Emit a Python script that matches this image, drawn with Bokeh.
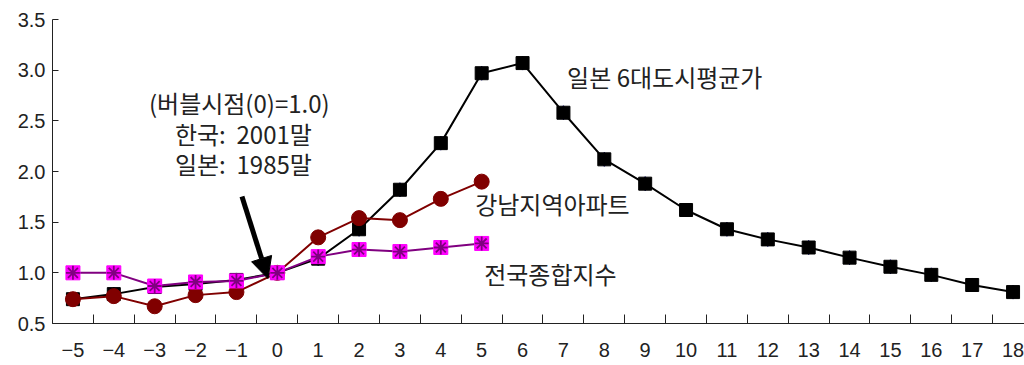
from bokeh.plotting import figure
from bokeh.models import Range1d, FixedTicker, Arrow, NormalHead, Label
from bokeh.embed import file_html
from bokeh.resources import INLINE

# ---- data ----
years_jp = list(range(-5, 19))
japan = [0.74, 0.79, 0.86, 0.89, 0.93, 1.00, 1.14, 1.43, 1.82, 2.28, 2.97, 3.07,
         2.58, 2.12, 1.88, 1.62, 1.43, 1.33, 1.25, 1.15, 1.06, 0.98, 0.88, 0.81]
years_kr = list(range(-5, 6))
gangnam = [0.74, 0.77, 0.67, 0.78, 0.81, 1.00, 1.35, 1.54, 1.52, 1.73, 1.90]
national = [1.00, 1.00, 0.87, 0.91, 0.92, 1.00, 1.16, 1.23, 1.21, 1.25, 1.29]

x_ticks = list(range(-5, 19))
x_labels = {t: (("\u2212" + str(-t)) if t < 0 else str(t)) for t in x_ticks}
y_ticks = [0.5, 1.0, 1.5, 2.0, 2.5, 3.0, 3.5]

series_labels = ["일본 6대도시평균가", "강남지역아파트", "전국종합지수"]
series_label_pos = [(7.09, 2.94), (4.84, 1.68), (5.06, 0.99)]
note_lines = ["(버블시점(0)=1.0)", "한국:\u00a0\u00a02001말", "일본:\u00a0\u00a01985말"]
note_pos = [(-0.93, 2.68), (-0.83, 2.375), (-0.83, 2.08)]
arrow_from = (-0.865, 1.753)
arrow_to = (-0.229, 0.943)

p = figure(width=1024, height=365, output_backend="svg", toolbar_location=None,
           x_range=Range1d(-5.5, 18.28), y_range=Range1d(0.5, 3.5),
           min_border_left=52, min_border_right=0, min_border_top=19, min_border_bottom=42)
p.outline_line_color = None
p.xgrid.visible = False
p.ygrid.visible = False
p.background_fill_color = "white"

num_font = "Liberation Sans"
kr_font = "Noto Sans CJK KR"

# x axis
p.xaxis.ticker = FixedTicker(ticks=x_ticks, minor_ticks=[t + 0.5 for t in range(-6, 19)])
p.xaxis.major_label_overrides = x_labels
p.xaxis.major_tick_in = 0
p.xaxis.major_tick_out = 0
p.xaxis.minor_tick_in = 9
p.xaxis.minor_tick_out = 0
p.xaxis.major_label_standoff = 19
p.xaxis.major_label_text_font = num_font
p.xaxis.major_label_text_font_size = "20px"
p.xaxis.major_label_text_color = "#222222"
p.xaxis.axis_line_color = "#222222"
p.xaxis.minor_tick_line_color = "#222222"

# y axis
p.yaxis.ticker = FixedTicker(ticks=y_ticks, minor_ticks=[])
p.yaxis.major_label_overrides = {t: f"{t:.1f}" for t in y_ticks}
p.yaxis.major_tick_in = 6
p.yaxis.major_tick_out = 0
p.yaxis.major_label_standoff = 7
p.yaxis.major_label_text_font = num_font
p.yaxis.major_label_text_font_size = "20px"
p.yaxis.major_label_text_color = "#222222"
p.yaxis.axis_line_color = "#222222"
p.yaxis.major_tick_line_color = "#222222"

# Japan
p.line(years_jp, japan, line_color="black", line_width=2)
p.scatter(years_jp, japan, marker="diamond", size=14, fill_color="navy", line_color="navy")
p.scatter(years_jp, japan, marker="square", size=13, fill_color="black", line_color="black")

# Gangnam
p.line(years_kr, gangnam, line_color="#800000", line_width=2)
p.scatter(years_kr, gangnam, marker="circle", size=15, fill_color="#800000", line_color="#800000")

# National
p.line(years_kr, national, line_color="#800080", line_width=2)
p.scatter(years_kr, national, marker="square", size=14, fill_color="#FF00FF", line_color="#FF00FF")
p.scatter(years_kr, national, marker="asterisk", size=14, line_color="#800080", line_width=1.8)

for txt, (x, y) in zip(series_labels, series_label_pos):
    p.add_layout(Label(x=x, y=y, text=txt, text_font=kr_font, text_font_size="24px",
                       text_color="#222222", text_baseline="middle", text_align="left"))

for txt, (x, y) in zip(note_lines, note_pos):
    p.add_layout(Label(x=x, y=y, text=txt, text_font=kr_font, text_font_size="24px",
                       text_color="#222222", text_baseline="middle", text_align="center"))

p.add_layout(Arrow(end=NormalHead(size=21, fill_color="black", line_color="black"),
                   x_start=arrow_from[0], y_start=arrow_from[1],
                   x_end=arrow_to[0], y_end=arrow_to[1],
                   line_width=5, line_color="black"))

open("out.html", "w").write(file_html(p, INLINE))
